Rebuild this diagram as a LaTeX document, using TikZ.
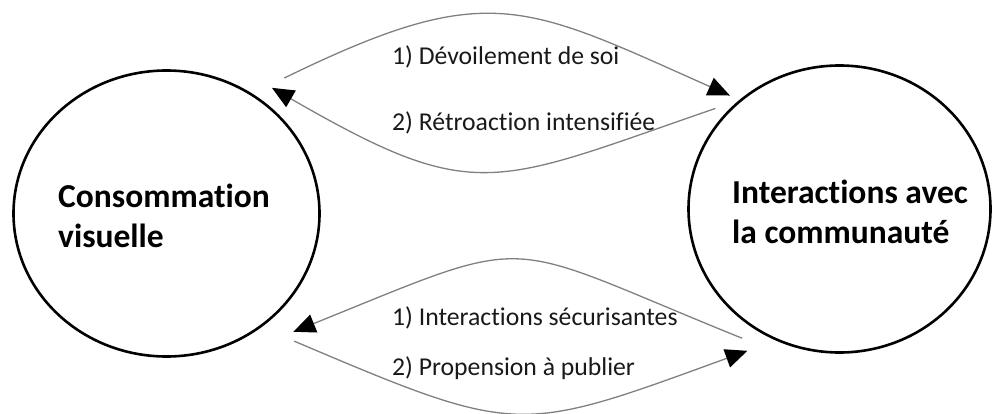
\documentclass[tikz,border=0pt]{standalone}
\usepackage{fontspec}
\setmainfont{Carlito}[Ligatures=NoCommon]
\usetikzlibrary{arrows.meta,shapes.geometric,calc}

\begin{document}
\begin{tikzpicture}[x=1pt,y=1pt,
  bubble/.style={ellipse, draw=black, line width=2.6pt, inner sep=0pt},
  flow/.style={draw=black!50, line width=1.3pt,
    -{Triangle[length=22pt,width=19pt,black]}},
  lbl/.style={anchor=base west, inner sep=0pt, text=black!90,
    font=\fontsize{25.7}{30}\selectfont},
  heading/.style={anchor=base west, inner sep=0pt, text=black,
    font=\bfseries\fontsize{33.5}{41}\selectfont}]
\useasboundingbox (0,0) rectangle (992,413);

% the two poles
\node[bubble, minimum width=306pt, minimum height=286pt] (L) at (166.5,199.5) {};
\node[bubble, minimum width=302pt, minimum height=287pt] (R) at (839.5,204) {};

\node[heading] (L1) at (58,206) {Consommation};
\node[heading] (L2) at (58,166) {visuelle};
\node[heading] (R1) at (732,210) {Interactions avec};
\node[heading] (R2) at (732,170) {la communauté};

% upper loop
\draw[flow] ($(L.center)!1.21!(L.49)$) to[out=26,in=156,looseness=1.3]
  ($(R.center)!1.064!(R.134)$);
\draw[flow] ($(R.center)!1.071!(R.141)$) to[out=199,in=-30,looseness=1.36]
  ($(L.center)!1.107!(L.50)$);
\node[lbl] (t1) at (392,348) {1) Dévoilement de soi};
\node[lbl] (t2) at (392,283) {2) Rétroaction intensifiée};

% lower loop
\draw[flow] ($(R.center)!1.098!(R.233)$) to[out=158,in=22,looseness=1.52]
  ($(L.center)!1.161!(L.317)$);
\draw[flow] ($(L.center)!1.211!(L.315)$) to[out=-23,in=200,looseness=1.38]
  ($(R.center)!1.151!(R.237)$);
\node[lbl] (b1) at (392,88) {1) Interactions sécurisantes};
\node[lbl] (b2) at (392,38) {2) Propension à publier};
\end{tikzpicture}
\end{document}
